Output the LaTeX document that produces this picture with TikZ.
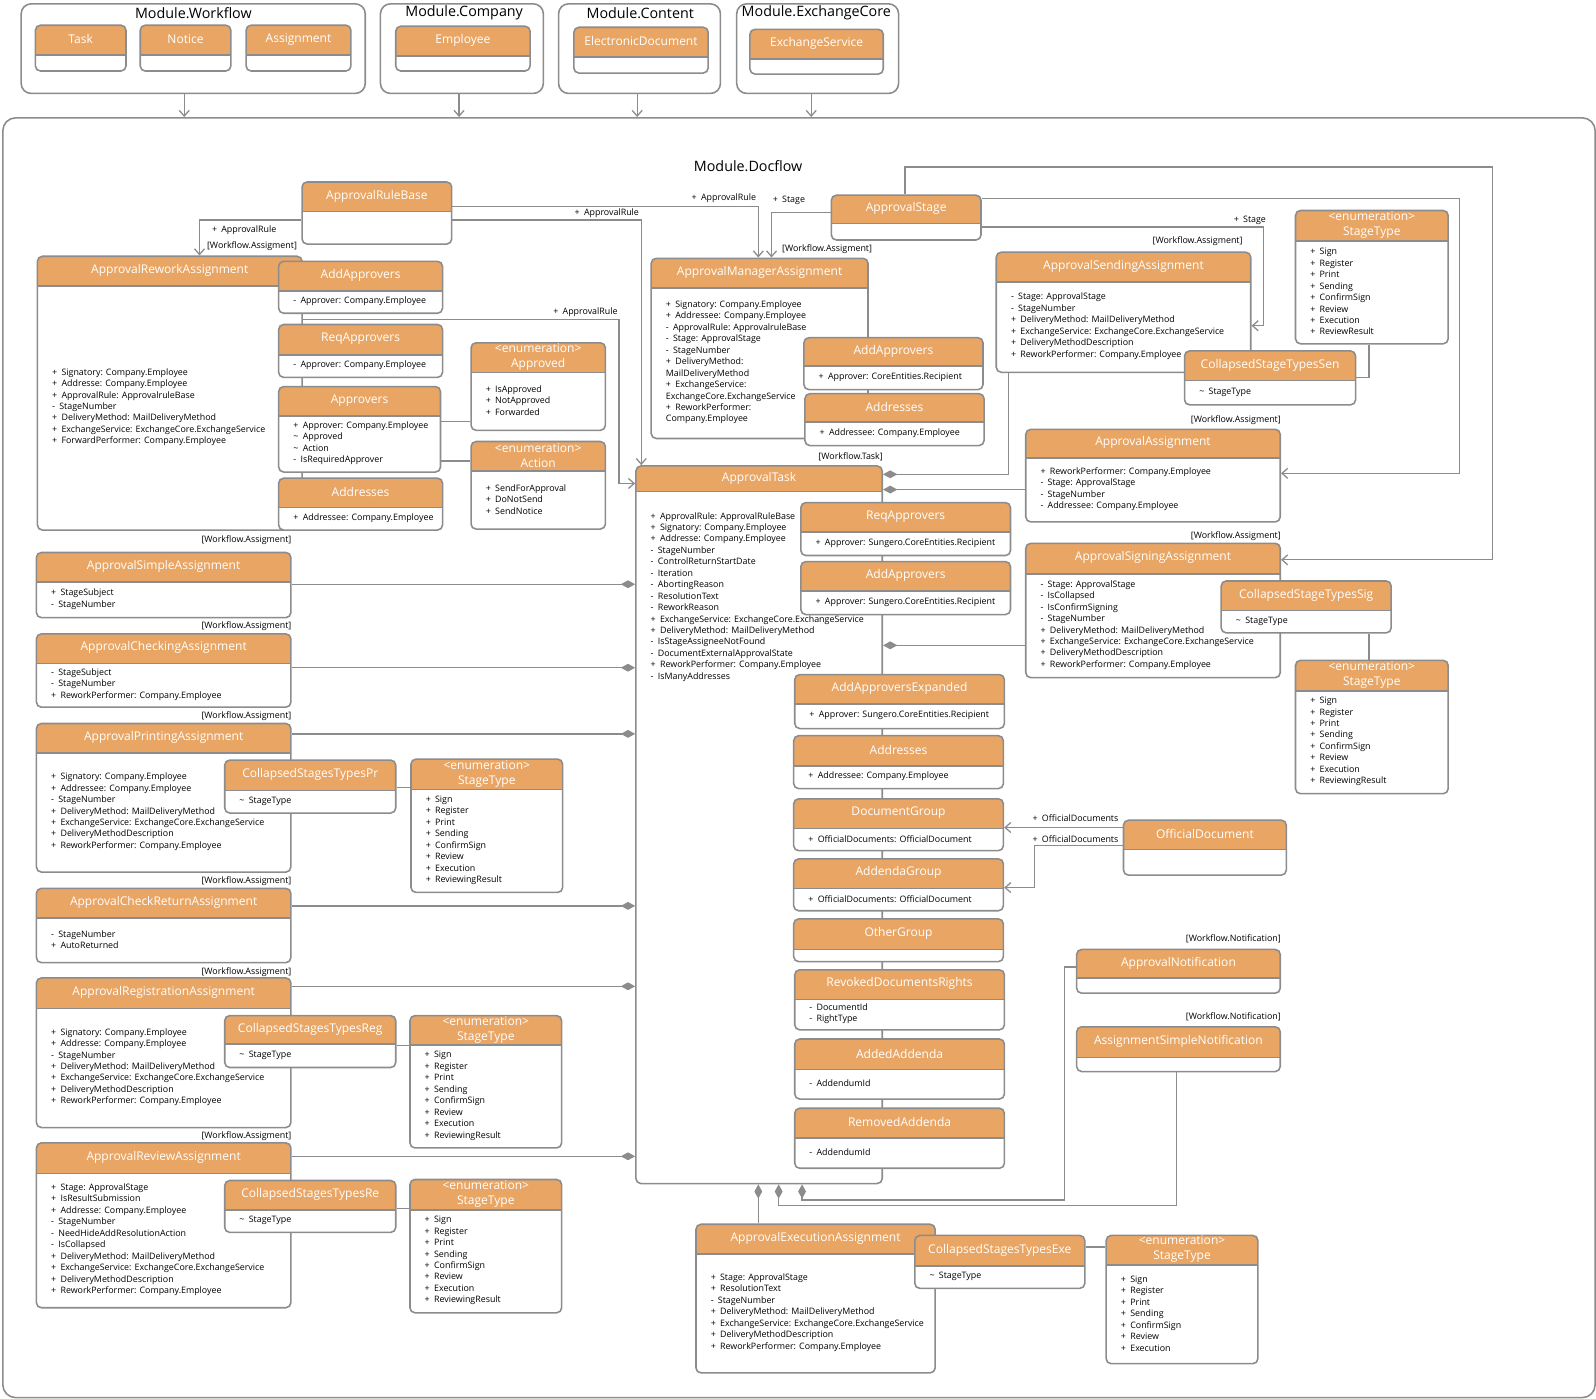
\documentclass[tikz,border=0pt]{standalone}
\usepackage{fontspec}
\setmainfont{Open Sans}
\usetikzlibrary{arrows.meta}

\definecolor{hdrorange}{RGB}{233,165,100}
\definecolor{edgegray}{RGB}{140,140,140}

\tikzset{
  classbox/.style={draw=edgegray, line width=1.1pt, fill=white, rounded corners=3.5pt, anchor=north west, inner sep=0pt},
  header/.style={path picture={
      \fill[hdrorange, sharp corners] (path picture bounding box.north west) rectangle ([yshift=-#1 cm]path picture bounding box.north east);
      \draw[edgegray, line width=1.1pt, sharp corners] ([yshift=-#1 cm]path picture bounding box.north west) -- ([yshift=-#1 cm]path picture bounding box.north east);}},
  classname/.style={text=white, font=\fontsize{8.4}{10.5}\selectfont, align=center, inner sep=0pt},
  attr/.style={font=\fontsize{6.2}{8}\selectfont, align=left, anchor=west, inner sep=0pt},
  lbl/.style={font=\fontsize{6.2}{8}\selectfont, inner sep=0pt},
  modbox/.style={draw=edgegray, line width=1.1pt, rounded corners=7pt, anchor=north west, inner sep=0pt},
  modtitle/.style={font=\fontsize{10}{12}\selectfont, inner sep=0pt},
  link/.style={draw=edgegray, line width=0.9pt},
  assoc/.style={link, -{Straight Barb[length=4pt,width=7pt]}},
  compo/.style={link, {Diamond[length=10pt,width=5.5pt]}-},
}

% class box: name, x1, y1, x2, y2, header bottom, title, attributes
\newcommand{\umlclass}[8]{%
  \pgfmathsetmacro{\boxw}{(#4-#2)*0.025}%
  \pgfmathsetmacro{\boxh}{(#5-#3)*0.025}%
  \pgfmathsetmacro{\hdrh}{(#6-#3)*0.025}%
  \pgfmathsetmacro{\hdrm}{(#6-#3)*0.0125}%
  \pgfmathsetmacro{\bodyy}{(#6+#5)/2}%
  \node[classbox, header=\hdrh, minimum width=\boxw cm, minimum height=\boxh cm] (#1) at (#2,#3) {};
  \node[classname] (#1-name) at ([yshift=-\hdrm cm]#1.north) {#7};
  \node[attr] (#1-attr) at (#2+15,\bodyy) {#8};
}
% visibility marks
\newcommand{\pl}{+\hspace{3pt}}
\newcommand{\mi}{-\hspace{3pt}}
\newcommand{\tl}{\textasciitilde\hspace{3pt}}

\begin{document}
\begin{tikzpicture}[x=0.025cm, y=-0.025cm]
    \useasboundingbox (0,0) rectangle (1568,1374);

    %%%%%%%%%%%%%%%%%%%%%%%%%%%%%%%%%%%%
    % outer modules
    %%%%%%%%%%%%%%%%%%%%%%%%%%%%%%%%%%%%
    \node[modbox, minimum width=8.45cm, minimum height=2.2cm] (wf) at (20,3) {};
    \node[modbox, minimum width=4cm, minimum height=2.2cm] (company) at (373,3) {};
    \node[modbox, minimum width=3.975cm, minimum height=2.2cm] (content) at (548,3) {};
    \node[modbox, minimum width=3.975cm, minimum height=2.2cm] (exchange) at (723,3) {};
    \node[modbox, rounded corners=9pt, minimum width=39.1cm, minimum height=31.425cm] (docflow) at (2,115) {};

    \node[modtitle] (wf-title) at (190,13) {Module.Workflow};
    \node[modtitle] (company-title) at (456,13) {Module.Company};
    \node[modtitle] (content-title) at (629,13) {Module.Content};
    \node[modtitle] (exchange-title) at (802,13) {Module.ExchangeCore};
    \node[modtitle] (docflow-title) at (735,163) {Module.Docflow};

    \umlclass{wfTask}{34}{24}{123}{69}{53}{Task}{}
    \umlclass{wfNotice}{137}{24}{226}{69}{53}{Notice}{}
    \umlclass{wfAssign}{241}{24}{344}{69}{53}{Assignment}{}
    \umlclass{coEmployee}{388}{25}{520}{69}{54}{Employee}{}
    \umlclass{ctDocument}{563}{26}{695}{71}{55}{ElectronicDocument}{}
    \umlclass{exService}{736}{28}{867}{72}{57}{ExchangeService}{}

    \draw[assoc] (181,0 |- wf.south) -- (181,0 |- docflow.north);
    \draw[assoc] (451,0 |- company.south) -- (451,0 |- docflow.north);
    \draw[assoc] (626,0 |- content.south) -- (626,0 |- docflow.north);
    \draw[assoc] (797,0 |- exchange.south) -- (797,0 |- docflow.north);

    %%%%%%%%%%%%%%%%%%%%%%%%%%%%%%%%%%%%
    % rule base, rework and manager
    %%%%%%%%%%%%%%%%%%%%%%%%%%%%%%%%%%%%
    \umlclass{rulebase}{296}{178}{443}{239}{207}{ApprovalRuleBase}{}
    \umlclass{rework}{36}{251}{296}{520}{280}{ApprovalReworkAssignment}{\pl Signatory: Company.Employee\\\pl Addresse: Company.Employee\\\pl ApprovalRule: ApprovalruleBase\\\mi StageNumber\\\pl DeliveryMethod: MailDeliveryMethod\\\pl ExchangeService: ExchangeCore.ExchangeService\\\pl ForwardPerformer: Company.Employee}
    \umlclass{rwAdd}{273}{256}{434}{307}{285}{AddApprovers}{\mi Approver: Company.Employee}
    \umlclass{rwReq}{273}{318}{434}{370}{348}{ReqApprovers}{\mi Approver: Company.Employee}
    \umlclass{approvers}{273}{379}{432}{463}{408}{Approvers}{\pl Approver: Company.Employee\\\tl Approved\\\tl Action\\\mi IsRequiredApprover}
    \umlclass{rwAddr}{273}{469}{434}{520}{498}{Addresses}{\pl Addressee: Company.Employee}
    \umlclass{approved}{462}{336}{594}{422}{365}{<enumeration>\\Approved}{\pl IsApproved\\\pl NotApproved\\\pl Forwarded}
    \umlclass{action}{462}{433}{594}{519}{462}{<enumeration>\\Action}{\pl SendForApproval\\\pl DoNotSend\\\pl SendNotice}

    \umlclass{manager}{639}{253}{852}{430}{282}{ApprovalManagerAssignment}{\pl Signatory: Company.Employee\\\pl Addressee: Company.Employee\\\mi ApprovalRule: ApprovalruleBase\\\mi Stage: ApprovalStage\\\mi StageNumber\\\pl DeliveryMethod:\\MailDeliveryMethod\\\pl ExchangeService:\\ExchangeCore.ExchangeService\\\pl ReworkPerformer:\\Company.Employee}
    \umlclass{mgAdd}{789}{331}{965}{382}{359}{AddApprovers}{\pl Approver: CoreEntities.Recipient}
    \umlclass{mgAddr}{790}{386}{966}{437}{414}{Addresses}{\pl Addressee: Company.Employee}

    %%%%%%%%%%%%%%%%%%%%%%%%%%%%%%%%%%%%
    % stage and right column
    %%%%%%%%%%%%%%%%%%%%%%%%%%%%%%%%%%%%
    \umlclass{stage}{816}{191}{963}{235}{219}{ApprovalStage}{}
    \umlclass{sending}{978}{247}{1228}{365}{276}{ApprovalSendingAssignment}{\mi Stage: ApprovalStage\\\mi StageNumber\\\pl DeliveryMethod: MailDeliveryMethod\\\pl ExchangeService: ExchangeCore.ExchangeService\\\pl DeliveryMethodDescription\\\pl ReworkPerformer: Company.Employee}
    \umlclass{colSen}{1163}{344}{1331}{397}{373}{CollapsedStageTypesSen}{\tl StageType}
    \umlclass{stSen}{1272}{206}{1422}{337}{236}{<enumeration>\\StageType}{\pl Sign\\\pl Register\\\pl Print\\\pl Sending\\\pl ConfirmSign\\\pl Review\\\pl Execution\\\pl ReviewResult}
    \umlclass{assign}{1007}{421}{1257}{512}{449}{ApprovalAssignment}{\pl ReworkPerformer: Company.Employee\\\mi Stage: ApprovalStage\\\mi StageNumber\\\mi Addressee: Company.Employee}
    \umlclass{signing}{1007}{533}{1257}{665}{563}{ApprovalSigningAssignment}{\mi Stage: ApprovalStage\\\mi IsCollapsed\\\mi IsConfirmSigning\\\mi StageNumber\\\pl DeliveryMethod: MailDeliveryMethod\\\pl ExchangeService: ExchangeCore.ExchangeService\\\pl DeliveryMethodDescription\\\pl ReworkPerformer: Company.Employee}
    \umlclass{colSig}{1199}{570}{1366}{621}{599}{CollapsedStageTypesSig}{\tl StageType}
    \umlclass{stSig}{1272}{648}{1422}{779}{678}{<enumeration>\\StageType}{\pl Sign\\\pl Register\\\pl Print\\\pl Sending\\\pl ConfirmSign\\\pl Review\\\pl Execution\\\pl ReviewingResult}
    \umlclass{official}{1103}{805}{1263}{859}{834}{OfficialDocument}{}
    \umlclass{approvalnote}{1057}{932}{1257}{975}{960}{ApprovalNotification}{}
    \umlclass{simplenote}{1057}{1008}{1257}{1052}{1038}{AssignmentSimpleNotification}{}

    %%%%%%%%%%%%%%%%%%%%%%%%%%%%%%%%%%%%
    % approval task
    %%%%%%%%%%%%%%%%%%%%%%%%%%%%%%%%%%%%
    \umlclass{task}{624}{457}{866}{1162}{482}{ApprovalTask}{}
    \node[attr, anchor=north west] (task-list) at (639,503) {\pl ApprovalRule: ApprovalRuleBase\\\pl Signatory: Company.Employee\\\pl Addresse: Company.Employee\\\mi StageNumber\\\mi ControlReturnStartDate\\\mi Iteration\\\mi AbortingReason\\\mi ResolutionText\\\mi ReworkReason\\\pl ExchangeService: ExchangeCore.ExchangeService\\\pl DeliveryMethod: MailDeliveryMethod\\\mi IsStageAssigneeNotFound\\\mi DocumentExternalApprovalState\\\pl ReworkPerformer: Company.Employee\\\mi IsManyAddresses};
    \umlclass{tkReq}{786}{493}{992}{545}{522}{ReqApprovers}{\pl Approver: Sungero.CoreEntities.Recipient}
    \umlclass{tkAdd}{786}{551}{992}{603}{580}{AddApprovers}{\pl Approver: Sungero.CoreEntities.Recipient}
    \umlclass{tkAddExp}{780}{662}{986}{715}{691}{AddApproversExpanded}{\pl Approver: Sungero.CoreEntities.Recipient}
    \umlclass{tkAddr}{779}{722}{985}{774}{752}{Addresses}{\pl Addressee: Company.Employee}
    \umlclass{docgroup}{779}{784}{985}{835}{813}{DocumentGroup}{\pl OfficialDocuments: OfficialDocument}
    \umlclass{addgroup}{779}{843}{985}{894}{872}{AddendaGroup}{\pl OfficialDocuments: OfficialDocument}
    \umlclass{othergroup}{779}{902}{985}{944}{932}{OtherGroup}{}
    \umlclass{revoked}{780}{952}{986}{1011}{981}{RevokedDocumentsRights}{\mi DocumentId\\\mi RightType}
    \umlclass{added}{780}{1020}{986}{1079}{1050}{AddedAddenda}{\mi AddendumId}
    \umlclass{removed}{780}{1088}{986}{1147}{1117}{RemovedAddenda}{\mi AddendumId}

    %%%%%%%%%%%%%%%%%%%%%%%%%%%%%%%%%%%%
    % left column of assignments
    %%%%%%%%%%%%%%%%%%%%%%%%%%%%%%%%%%%%
    \umlclass{simple}{35}{542}{285}{606}{571}{ApprovalSimpleAssignment}{\pl StageSubject\\\mi StageNumber}
    \umlclass{checking}{35}{622}{285}{694}{651}{ApprovalCheckingAssignment}{\mi StageSubject\\\mi StageNumber\\\pl ReworkPerformer: Company.Employee}
    \umlclass{printing}{35}{710}{285}{856}{739}{ApprovalPrintingAssignment}{\pl Signatory: Company.Employee\\\pl Addressee: Company.Employee\\\mi StageNumber\\\pl DeliveryMethod: MailDeliveryMethod\\\pl ExchangeService: ExchangeCore.ExchangeService\\\pl DeliveryMethodDescription\\\pl ReworkPerformer: Company.Employee}
    \umlclass{colPr}{220}{746}{388}{798}{776}{CollapsedStagesTypesPr}{\tl StageType}
    \umlclass{stPr}{403}{745}{552}{876}{775}{<enumeration>\\StageType}{\pl Sign\\\pl Register\\\pl Print\\\pl Sending\\\pl ConfirmSign\\\pl Review\\\pl Execution\\\pl ReviewingResult}
    \umlclass{checkreturn}{35}{872}{285}{945}{901}{ApprovalCheckReturnAssignment}{\mi StageNumber\\\pl AutoReturned}
    \umlclass{registration}{35}{960}{285}{1107}{990}{ApprovalRegistrationAssignment}{\pl Signatory: Company.Employee\\\pl Addresse: Company.Employee\\\mi StageNumber\\\pl DeliveryMethod: MailDeliveryMethod\\\pl ExchangeService: ExchangeCore.ExchangeService\\\pl DeliveryMethodDescription\\\pl ReworkPerformer: Company.Employee}
    \umlclass{colReg}{220}{997}{388}{1048}{1025}{CollapsedStagesTypesReg}{\tl StageType}
    \umlclass{stReg}{402}{997}{551}{1127}{1026}{<enumeration>\\StageType}{\pl Sign\\\pl Register\\\pl Print\\\pl Sending\\\pl ConfirmSign\\\pl Review\\\pl Execution\\\pl ReviewingResult}
    \umlclass{review}{35}{1122}{285}{1284}{1152}{ApprovalReviewAssignment}{\pl Stage: ApprovalStage\\\pl IsResultSubmission\\\pl Addresse: Company.Employee\\\mi StageNumber\\\mi NeedHideAddResolutionAction\\\mi IsCollapsed\\\pl DeliveryMethod: MailDeliveryMethod\\\pl ExchangeService: ExchangeCore.ExchangeService\\\pl DeliveryMethodDescription\\\pl ReworkPerformer: Company.Employee}
    \umlclass{colRe}{220}{1159}{388}{1210}{1188}{CollapsedStagesTypesRe}{\tl StageType}
    \umlclass{stRe}{402}{1158}{551}{1289}{1188}{<enumeration>\\StageType}{\pl Sign\\\pl Register\\\pl Print\\\pl Sending\\\pl ConfirmSign\\\pl Review\\\pl Execution\\\pl ReviewingResult}

    % execution at the bottom
    \umlclass{execution}{683}{1202}{918}{1348}{1231}{ApprovalExecutionAssignment}{\pl Stage: ApprovalStage\\\pl ResolutionText\\\mi StageNumber\\\pl DeliveryMethod: MailDeliveryMethod\\\pl ExchangeService: ExchangeCore.ExchangeService\\\pl DeliveryMethodDescription\\\pl ReworkPerformer: Company.Employee}
    \umlclass{colExe}{898}{1213}{1065}{1265}{1243}{CollapsedStagesTypesExe}{\tl StageType}
    \umlclass{stExe}{1086}{1213}{1235}{1339}{1242}{<enumeration>\\StageType}{\pl Sign\\\pl Register\\\pl Print\\\pl Sending\\\pl ConfirmSign\\\pl Review\\\pl Execution}

    %%%%%%%%%%%%%%%%%%%%%%%%%%%%%%%%%%%%
    % associations
    %%%%%%%%%%%%%%%%%%%%%%%%%%%%%%%%%%%%
    \draw[assoc] (rulebase.west |- 0,216) -| (196,0 |- rework.north);
    \draw[assoc] (rulebase.east |- 0,216) -| (630,0 |- task.north);
    \draw[assoc] (rework.east |- 0,314) -| (608,475) -- (task.west |- 0,475);
    \draw[assoc] (rulebase.east |- 0,203) -| (745,0 |- manager.north);
    \draw[assoc] (stage.west |- 0,209) -| (758,0 |- manager.north);
    \draw[assoc] (stage.east |- 0,223) -| (1241,320) -- (sending.east |- 0,320);
    \draw[assoc] (stage.east |- 0,195) -| (1434,465) -- (assign.east |- 0,465);
    \draw[assoc] (889,0 |- stage.north) |- (1466,164) |- (signing.east |- 0,550);
    \draw[assoc] (official.west |- 0,813) -- (docgroup.east |- 0,813);
    \draw[assoc] (official.west |- 0,831) -| (1016,872) -- (addgroup.east |- 0,872);

    \node[lbl, anchor=west] (lRuleRework) at (208,226) {\pl ApprovalRule};
    \node[lbl, anchor=east] (lAsgRework) at (292,242) {[Workflow.Assigment]};
    \node[lbl, anchor=east] (lRuleTask) at (628,209) {\pl ApprovalRule};
    \node[lbl, anchor=east] (lRuleTaskB) at (607,307) {\pl ApprovalRule};
    \node[lbl, anchor=east] (lRuleManager) at (743,195) {\pl ApprovalRule};
    \node[lbl, anchor=west] (lStageManager) at (759,197) {\pl Stage};
    \node[lbl, anchor=east] (lAsgManager) at (857,245) {[Workflow.Assigment]};
    \node[lbl, anchor=east] (lStageSending) at (1244,216) {\pl Stage};
    \node[lbl, anchor=east] (lAsgSending) at (1221,237) {[Workflow.Assigment]};
    \node[lbl, anchor=east] (lAsgAssign) at (assign.north east |- 0,413) {[Workflow.Assigment]};
    \node[lbl, anchor=east] (lTask) at (task.north east |- 0,449) {[Workflow.Task]};
    \node[lbl, anchor=east] (lAsgSigning) at (signing.north east |- 0,527) {[Workflow.Assigment]};
    \node[lbl, anchor=east] (lDocs1) at (1099,804) {\pl OfficialDocuments};
    \node[lbl, anchor=east] (lDocs2) at (1099,824) {\pl OfficialDocuments};
    \node[lbl, anchor=east] (lNote1) at (approvalnote.north east |- 0,922) {[Workflow.Notification]};
    \node[lbl, anchor=east] (lNote2) at (simplenote.north east |- 0,999) {[Workflow.Notification]};
    \node[lbl, anchor=east] (lAsgSimple) at (simple.north east |- 0,531) {[Workflow.Assigment]};
    \node[lbl, anchor=east] (lAsgChecking) at (checking.north east |- 0,615) {[Workflow.Assigment]};
    \node[lbl, anchor=east] (lAsgPrinting) at (printing.north east |- 0,704) {[Workflow.Assigment]};
    \node[lbl, anchor=east] (lAsgCheckReturn) at (checkreturn.north east |- 0,866) {[Workflow.Assigment]};
    \node[lbl, anchor=east] (lAsgRegistration) at (registration.north east |- 0,955) {[Workflow.Assigment]};
    \node[lbl, anchor=east] (lAsgReview) at (review.north east |- 0,1116) {[Workflow.Assigment]};

    %%%%%%%%%%%%%%%%%%%%%%%%%%%%%%%%%%%%
    % compositions into the task
    %%%%%%%%%%%%%%%%%%%%%%%%%%%%%%%%%%%%
    \draw[compo] (task.east |- 0,466) -| (991,0 |- sending.south);
    \draw[compo] (task.east |- 0,481) -- (assign.west |- 0,481);
    \draw[compo] (task.east |- 0,634) -- (signing.west |- 0,634);
    \draw[compo] (task.west |- 0,574) -- (simple.east |- 0,574);
    \draw[compo] (task.west |- 0,656) -- (checking.east |- 0,656);
    \draw[compo] (task.west |- 0,721) -- (printing.east |- 0,721);
    \draw[compo] (task.west |- 0,890) -- (checkreturn.east |- 0,890);
    \draw[compo] (task.west |- 0,969) -- (registration.east |- 0,969);
    \draw[compo] (task.west |- 0,1136) -- (review.east |- 0,1136);
    \draw[compo] (745,0 |- task.south) -- (745,0 |- execution.north);
    \draw[compo] (765,0 |- task.south) |- (1156,1184) -- (1156,0 |- simplenote.south);
    \draw[compo] (788,0 |- task.south) |- (1046,1179) |- (approvalnote.west |- 0,950);

    % plain links
    \draw[link] (approvers.east |- 0,414) -- (approved.west |- 0,414);
    \draw[link] (approvers.east |- 0,453) -- (action.west |- 0,453);
    \draw[link] (1345,0 |- stSen.south) |- (colSen.east |- 0,371);
    \draw[link] (1345,0 |- colSig.south) -- (1345,0 |- stSig.north);
    \draw[link] (colPr.east |- 0,774) -- (stPr.west |- 0,774);
    \draw[link] (colReg.east |- 0,1027) -- (stReg.west |- 0,1027);
    \draw[link] (colRe.east |- 0,1187) -- (stRe.west |- 0,1187);
    \draw[link] (colExe.east |- 0,1225) -- (stExe.west |- 0,1225);

\end{tikzpicture}
\end{document}
